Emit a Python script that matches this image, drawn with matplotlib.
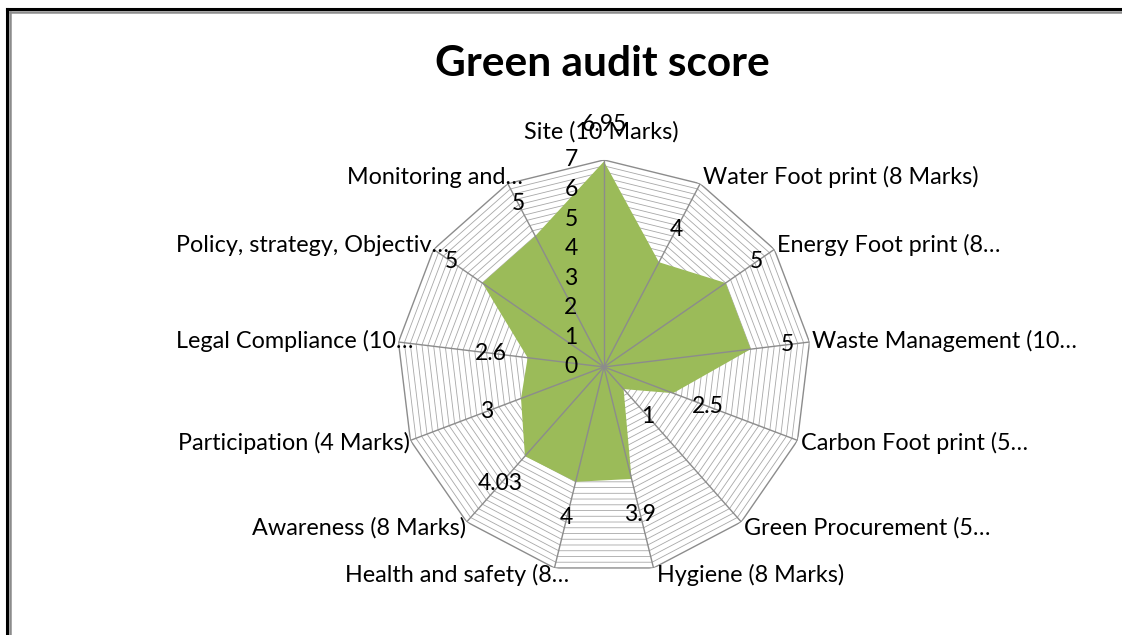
import numpy as np
import matplotlib.pyplot as plt
from matplotlib.lines import Line2D

plt.rcParams['font.family'] = ['Lato', 'DejaVu Sans']

# data
categories = ["Site (10 Marks)", "Water Foot print (8 Marks)", "Energy Foot print (8…",
              "Waste Management (10…", "Carbon Foot print (5…", "Green Procurement (5…",
              "Hygiene (8 Marks)", "Health and safety (8…", "Awareness (8 Marks)",
              "Participation (4 Marks)", "Legal Compliance (10…",
              "Policy, strategy, Objectiv…", "Monitoring and…"]
scores = [6.95, 4, 5, 5, 2.5, 1, 3.9, 4, 4.03, 3, 2.6, 5, 5]
score_labels = ["6.95", "4", "5", "5", "2.5", "1", "3.9", "4", "4.03", "3", "2.6", "5", "5"]
r_ticks = [0, 1, 2, 3, 4, 5, 6, 7]
r_max = 7

n = len(categories)
theta = np.arange(n) * 2 * np.pi / n
theta_c = np.append(theta, theta[0])

fig = plt.figure(figsize=(11.22, 6.35), dpi=100)
ax = fig.add_axes([0.3538, 0.0961, 0.369, 0.652], projection='polar')
ax.set_theta_zero_location('N')
ax.set_theta_direction(-1)
ax.set_ylim(0, r_max)
ax.set_axis_off()

# polygon grid, every 0.2
for r in np.arange(0.2, r_max + 0.001, 0.2):
    outer = abs(r - r_max) < 1e-6
    ax.plot(theta_c, [r] * (n + 1), color='#8c8c8c' if outer else '#a8a8a8',
            lw=1.0 if outer else 0.6, zorder=1)

# filled series
ax.fill(theta_c, np.append(scores, scores[0]), color='#9bbb59', lw=0, zorder=2)

# spokes
for th in theta:
    ax.plot([th, th], [0, r_max], color='#8c8c8c', lw=1.0, zorder=3)

# radial tick labels along the first spoke
for t in r_ticks:
    ax.annotate(str(t), xy=(0, t), xytext=(-33, 0), textcoords='offset pixels',
                ha='center', va='center', fontsize=16.5, zorder=4)

# value labels
for th, v, lbl in zip(theta, scores, score_labels):
    d = 37
    ax.annotate(lbl, xy=(th, v), xytext=(d * np.sin(th), d * np.cos(th)),
                textcoords='offset pixels', ha='center', va='center',
                fontsize=16.5, zorder=5)

# category labels, placed next to the outer vertices
for th, cat in zip(theta, categories):
    s, c = np.sin(th), np.cos(th)
    if abs(s) < 0.05:
        ax.annotate(cat, xy=(th, r_max), xytext=(-3, 28), textcoords='offset pixels',
                    ha='center', va='center', fontsize=16.8)
    elif s > 0:
        ax.annotate(cat, xy=(th, r_max), xytext=(3, 7.5 * c), textcoords='offset pixels',
                    ha='left', va='center', fontsize=16.8)
    else:
        dx = 15 if cat.endswith('…') else -1
        ax.annotate(cat, xy=(th, r_max), xytext=(dx, 7.5 * c), textcoords='offset pixels',
                    ha='right', va='center', fontsize=16.8)

fig.text(0.537, 0.900, "Green audit score", ha='center', va='center',
         fontsize=30.5, fontweight='bold')

# frame lines at the top-left
fig.add_artist(Line2D([7 / 1122, 7 / 1122], [0, 1 - 9 / 635], color='black', lw=2.2,
                      transform=fig.transFigure))
fig.add_artist(Line2D([7 / 1122, 1], [1 - 9 / 635, 1 - 9 / 635], color='black', lw=2.2,
                      transform=fig.transFigure))
fig.add_artist(Line2D([10 / 1122, 10 / 1122], [0, 1 - 11.5 / 635], color='#8c8c8c', lw=1.8,
                      transform=fig.transFigure))
fig.add_artist(Line2D([10 / 1122, 1], [1 - 11.5 / 635, 1 - 11.5 / 635], color='#8c8c8c',
                      lw=1.8, transform=fig.transFigure))

fig.savefig('out.png', dpi=100)
